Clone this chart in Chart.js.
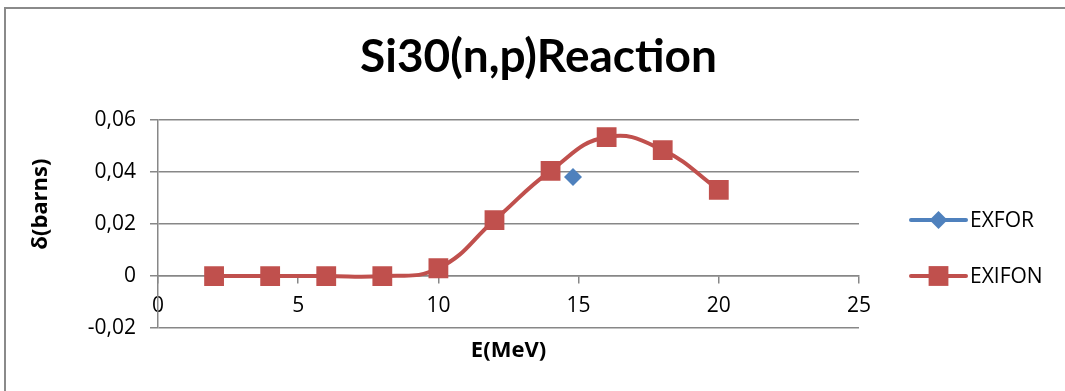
<!DOCTYPE html>
<html>
<head>
<meta charset="utf-8">
<title>Si30(n,p)Reaction</title>
<script src="https://cdn.jsdelivr.net/npm/chart.js@4/dist/chart.umd.min.js"></script>
<style>
  html, body { margin: 0; padding: 0; background: #fff; }
  #wrap { position: relative; width: 1065px; height: 391px; overflow: hidden; }
  #frame { position: absolute; left: 4px; top: 7px; width: 1100px; height: 420px; border: 2px solid #8a8a8a; box-sizing: border-box; }
  canvas { position: absolute; left: 0; top: 0; }
</style>
</head>
<body>
<div id="wrap">
  <div id="frame"></div>
  <canvas id="myChart" width="1065" height="391"></canvas>
</div>
<script>
"use strict";

// energies in MeV, cross sections in barns
const energies = [2, 4, 6, 8, 10, 12, 14, 16, 18, 20];
const exifonValues = [0, 0, 0, 0, 0.003, 0.0215, 0.0405, 0.0535, 0.0485, 0.0332];
const exforEnergies = [14.8];
const exforValues = [0.0381];

const xTickValues = [0, 5, 10, 15, 20, 25];
const yTickValues = [-0.02, 0, 0.02, 0.04, 0.06];
const yTickLabels = ['-0,02', '0', '0,02', '0,04', '0,06'];
const yTitle = 'δ(barns)';

const TITLE_FONT = 'Lato, "Open Sans", sans-serif';
const FONT = '"Open Sans", Lato, sans-serif';
const GRID = '#878787';

const toPoints = (xs, ys) => xs.map((x, i) => ({ x: x, y: ys[i] }));

// legend on the right: a short line with the series marker, then the name
const sideLegend = {
  id: 'sideLegend',
  afterDraw(chart) {
    const ctx = chart.ctx;
    const x0 = 911, x1 = 966, rows = [220, 276];
    chart.data.datasets.forEach((ds, i) => {
      const y = rows[i];
      ctx.save();
      ctx.strokeStyle = ds.borderColor;
      ctx.lineWidth = 4;
      ctx.lineCap = 'round';
      ctx.beginPath();
      ctx.moveTo(x0, y);
      ctx.lineTo(x1, y);
      ctx.stroke();
      ctx.fillStyle = ds.pointBackgroundColor;
      ctx.strokeStyle = ds.pointBackgroundColor;
      Chart.helpers.drawPoint(ctx, {
        pointStyle: ds.pointStyle,
        radius: ds.pointRadius,
        rotation: 0,
        borderWidth: 0
      }, (x0 + x1) / 2, y);
      ctx.restore();
      ctx.save();
      ctx.fillStyle = '#000';
      ctx.font = '21px ' + FONT;
      ctx.textBaseline = 'middle';
      ctx.fillText(ds.label, x1 + 4, y + 1);
      ctx.restore();
    });
  }
};

// vertical axis title, sitting a little above the middle of the plot
const yAxisTitle = {
  id: 'yAxisTitle',
  afterDraw(chart) {
    const ctx = chart.ctx;
    const area = chart.chartArea;
    ctx.save();
    ctx.translate(41, (area.top + area.bottom) / 2 - 20);
    ctx.rotate(-Math.PI / 2);
    ctx.fillStyle = '#000';
    ctx.font = 'bold 22px ' + FONT;
    ctx.textAlign = 'center';
    ctx.textBaseline = 'middle';
    ctx.fillText(yTitle, 0, 0);
    ctx.restore();
  }
};

const ctx = document.getElementById('myChart').getContext('2d');
const myChart = new Chart(ctx, {
  type: 'scatter',
  data: {
    datasets: [{
      label: 'EXFOR',
      data: toPoints(exforEnergies, exforValues),
      showLine: false,
      pointStyle: 'rectRot',
      pointRadius: 9,
      borderColor: '#4F81BD',
      pointBackgroundColor: '#4F81BD',
      pointBorderWidth: 0,
      xAxisID: 'x',
      yAxisID: 'y'
    }, {
      label: 'EXIFON',
      data: toPoints(energies, exifonValues),
      showLine: true,
      tension: 0.45,
      borderWidth: 4,
      borderColor: '#C0504D',
      pointStyle: 'rect',
      pointRadius: 14,
      pointBackgroundColor: '#C0504D',
      pointBorderWidth: 0,
      xAxisID: 'x',
      yAxisID: 'y'
    }]
  },
  options: {
    responsive: false,
    animation: false,
    layout: { padding: { left: 12, top: 0, right: 0, bottom: 63 } },
    plugins: {
      legend: { display: false },
      tooltip: { enabled: false },
      title: {
        display: true,
        text: 'Si30(n,p)Reaction',
        color: '#000',
        font: { family: TITLE_FONT, size: 46, weight: 'bold', lineHeight: 1.2 },
        padding: { top: 30, bottom: 35 }
      }
    },
    scales: {
      x: {
        type: 'linear',
        position: { y: 0 },
        min: 0,
        max: 25,
        afterBuildTicks: (scale) => { scale.ticks = xTickValues.map(v => ({ value: v })); },
        ticks: {
          color: '#000',
          font: { family: FONT, size: 21 },
          padding: 10,
          maxRotation: 0,
          autoSkip: false
        },
        grid: { drawOnChartArea: false, drawTicks: true, tickLength: 7, color: GRID, lineWidth: 1.5 },
        border: { display: true, color: GRID, width: 1.5 },
        title: {
          display: true,
          text: 'E(MeV)',
          color: '#000',
          font: { family: FONT, size: 22, weight: 'bold', lineHeight: 1.2 },
          padding: { top: 9, bottom: 4 }
        }
      },
      y: {
        type: 'linear',
        position: 'left',
        min: -0.02,
        max: 0.06,
        afterBuildTicks: (scale) => { scale.ticks = yTickValues.map(v => ({ value: v })); },
        afterFit: (scale) => { scale.width = 146; },
        ticks: {
          color: '#000',
          font: { family: FONT, size: 21 },
          padding: 14,
          callback: (v, i) => yTickLabels[i]
        },
        grid: { color: GRID, lineWidth: 1.5, tickLength: 8 },
        border: { display: true, color: GRID, width: 1.5 }
      },
      // empty axis that keeps room for the legend on the right
      pad: {
        type: 'linear',
        position: 'right',
        display: true,
        afterFit: (scale) => { scale.width = 206; },
        ticks: { display: false },
        grid: { display: false },
        border: { display: false }
      }
    }
  },
  plugins: [sideLegend, yAxisTitle]
});
</script>
</body>
</html>
